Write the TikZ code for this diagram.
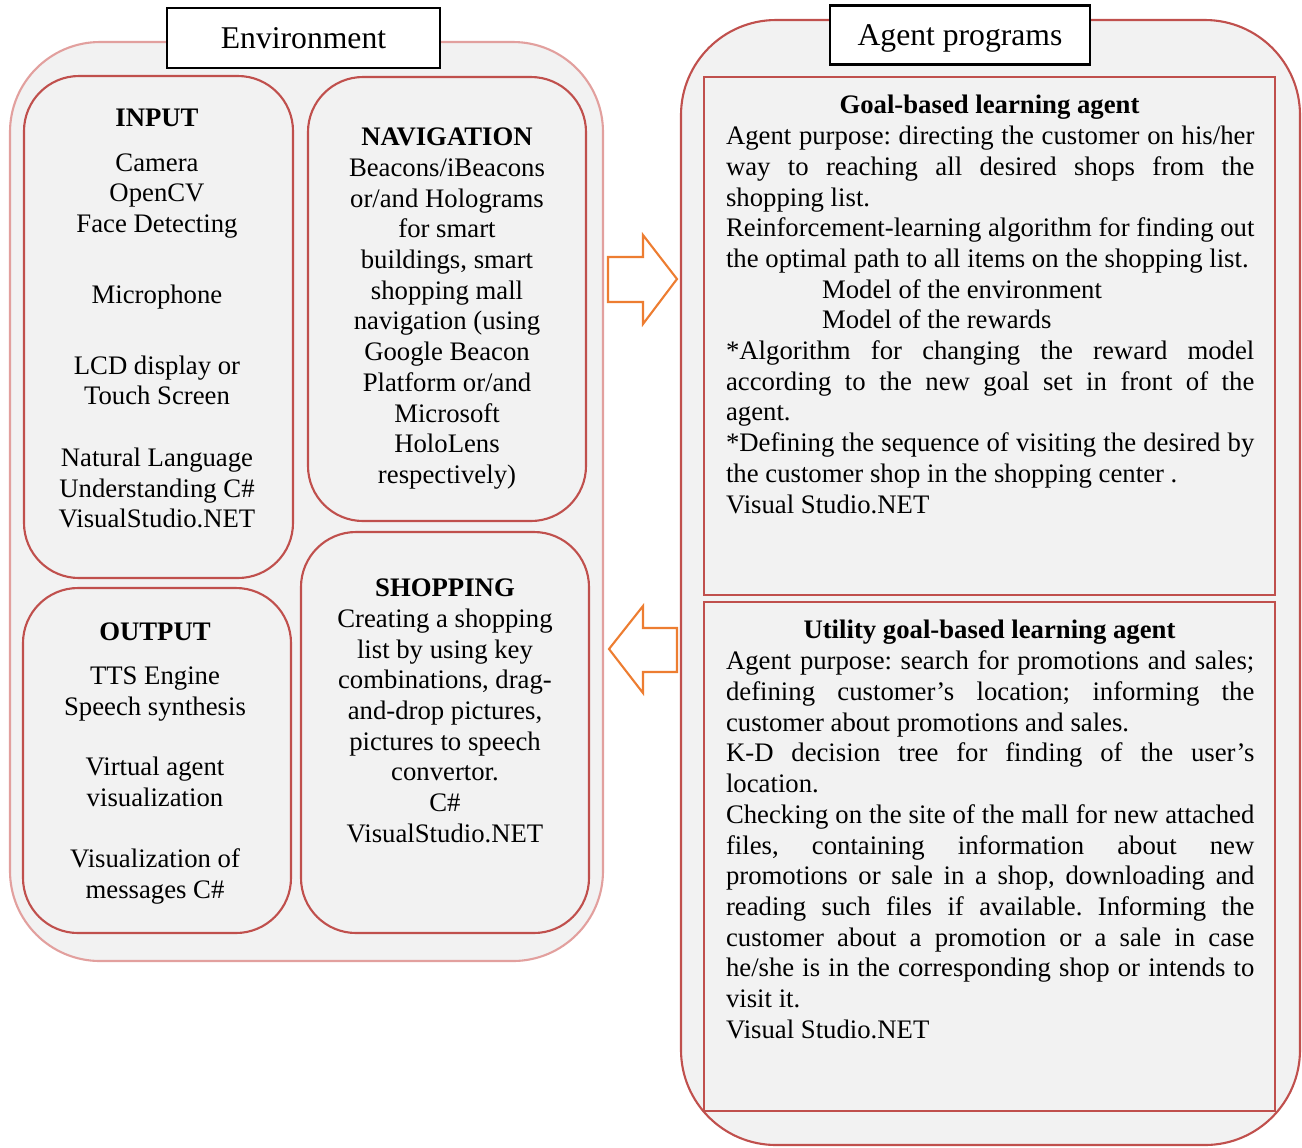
\documentclass[tikz,border=0pt]{standalone}
\usepackage{fontspec}
\setmainfont{Liberation Serif}
\usepackage{tikz}

\definecolor{boxred}{HTML}{C0504D}
\definecolor{softred}{HTML}{E2A09E}
\definecolor{panel}{HTML}{F2F2F2}
\definecolor{arrorange}{HTML}{ED7D31}

\tikzset{
  txt/.style={font=\fontsize{7.6}{8.73}\selectfont, inner sep=0pt, align=center},
  body/.style={font=\fontsize{7.6}{8.73}\selectfont\frenchspacing, inner sep=0pt, text width=5.28cm, align=left, anchor=north west},
  label/.style={draw=black, fill=white, line width=0.6pt, font=\fontsize{9}{10}\selectfont},
}
\newcommand{\jl}[1]{\makebox[5.28cm][s]{\spaceskip=0pt\xspaceskip=0pt #1}}
\newcommand{\pl}[1]{\makebox[5.28cm][l]{\spaceskip=0pt\xspaceskip=0pt #1}}

\begin{document}
\begin{tikzpicture}[x=0.01cm, y=-0.01cm, line width=0.6pt]
\useasboundingbox (0,0) rectangle (1302,1147);
% environment side
\filldraw[draw=softred, fill=panel, rounded corners=0.9cm] (10,42) rectangle (603,961);
\filldraw[draw=boxred, fill=panel, rounded corners=0.55cm] (24,76) rectangle (293,578);
\filldraw[draw=boxred, fill=panel, rounded corners=0.55cm] (308,77) rectangle (586,521);
\filldraw[draw=boxred, fill=panel, rounded corners=0.55cm] (23,588) rectangle (291,933);
\filldraw[draw=boxred, fill=panel, rounded corners=0.55cm] (301,532) rectangle (589,933);
\node[label, minimum width=2.73cm, minimum height=0.6cm] (env) at (303.5,38) {Environment};
\node[txt, anchor=north] (input) at (157,108) {\textbf{INPUT}\\[0.14cm]
  Camera\\ OpenCV\\ Face Detecting\\[0.40cm] Microphone\\[0.40cm]
  LCD display or\\ Touch Screen\\[0.31cm] Natural Language\\ Understanding C\#\\ VisualStudio.NET};
\node[txt, anchor=north] (nav) at (447,127) {\textbf{NAVIGATION}\\ Beacons/iBeacons\\ or/and Holograms\\
  for smart\\ buildings, smart\\ shopping mall\\ navigation (using\\ Google Beacon\\ Platform or/and\\
  Microsoft\\ HoloLens\\ respectively)};
\node[txt, anchor=north] (output) at (155,622) {\textbf{OUTPUT}\\[0.13cm] TTS Engine\\ Speech synthesis\\[0.30cm]
  Virtual agent\\ visualization\\[0.30cm] Visualization of\\ messages C\#};
\node[txt, anchor=north] (shop) at (445,578) {\textbf{SHOPPING}\\ Creating a shopping\\ list by using key\\
  combinations, drag-\\ and-drop pictures,\\ pictures to speech\\ convertor.\\ C\#\\ VisualStudio.NET};
% arrows between the sides
\filldraw[draw=arrorange, fill=white] (608,257) -- (643,257) -- (643,235) -- (677,279) -- (643,324) -- (643,302) -- (608,302) --cycle;
\filldraw[draw=arrorange, fill=white] (677,628) -- (643,628) -- (643,606) -- (609,649) -- (643,693) -- (643,672) -- (677,672) --cycle;
% agent side
\filldraw[draw=boxred, fill=panel, rounded corners=0.95cm] (681,20) rectangle (1300,1145);
\filldraw[draw=boxred, fill=panel] (704,77) rectangle (1275,595);
\filldraw[draw=boxred, fill=panel] (704,602) rectangle (1275,1111);
\node[label, minimum width=2.6cm, minimum height=0.59cm, text depth=0pt] (prog) at (960,35) {Agent programs};
\node[txt, anchor=north] (goal) at (989.5,94) {\textbf{Goal-based learning agent}};
\node[body] (goaltxt) at (725,125) {\jl{Agent purpose: directing the customer on his/her}\\
  \jl{way to reaching all desired shops from the}\\ \pl{shopping list.}\\
  \jl{Reinforcement-learning algorithm for finding out}\\
  \pl{the optimal path to all items on the shopping list.}\\
  \pl{\hspace*{0.96cm}Model of the environment}\\ \pl{\hspace*{0.96cm}Model of the rewards}\\
  \jl{*Algorithm for changing the reward model}\\ \jl{according to the new goal set in front of the}\\ \pl{agent.}\\
  \jl{*Defining the sequence of visiting the desired by}\\ \pl{the customer shop in the shopping center .}\\ \pl{Visual Studio.NET}};
\node[txt, anchor=north] (util) at (989.5,619) {\textbf{Utility goal-based learning agent}};
\node[body] (utiltxt) at (725,650) {\jl{Agent purpose: search for promotions and sales;}\\
  \jl{defining customer’s location; informing the}\\ \pl{customer about promotions and sales.}\\
  \jl{K-D decision tree for finding of the user’s}\\ \pl{location.}\\
  \jl{Checking on the site of the mall for new attached}\\ \jl{files, containing information about new}\\
  \jl{promotions or sale in a shop, downloading and}\\ \jl{reading such files if available. Informing the}\\
  \jl{customer about a promotion or a sale in case}\\ \jl{he/she is in the corresponding shop or intends to}\\
  \pl{visit it.}\\ \pl{Visual Studio.NET}};
\end{tikzpicture}
\end{document}
